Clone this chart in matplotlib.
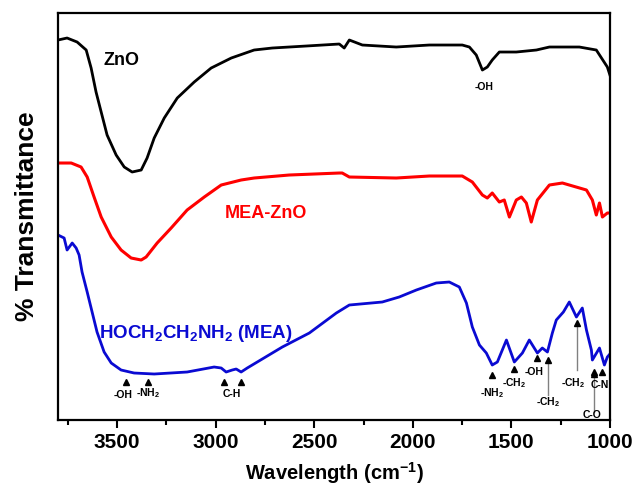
import numpy as np
import matplotlib.pyplot as plt
from matplotlib.ticker import MultipleLocator

plt.rcParams['font.family'] = ['Liberation Sans', 'DejaVu Sans']
plt.rcParams['font.weight'] = 'bold'
plt.rcParams['mathtext.default'] = 'regular'

# ZnO (black)
zno_wn = [3800, 3754, 3703, 3657, 3632, 3607, 3581, 3551, 3505, 3464, 3424, 3378, 3348, 3312,
          3261, 3195, 3109, 3023, 2921, 2805, 2713, 2541, 2373, 2348, 2322, 2256, 2084, 1916,
          1749, 1713, 1678, 1647, 1622, 1597, 1561, 1475, 1373, 1307, 1155, 1069, 1013, 1000]
zno_t = [380, 382, 378, 370, 352, 328, 308, 285, 265, 253, 248, 250, 262, 282,
         302, 322, 338, 352, 362, 370, 372, 374, 376, 372, 380, 375, 373, 375,
         375, 373, 365, 350, 353, 360, 368, 368, 370, 373, 373, 370, 353, 345]

# MEA-ZnO (red)
mea_zno_wn = [3800, 3733, 3683, 3652, 3617, 3581, 3530, 3480, 3429, 3378, 3353, 3297, 3226,
              3145, 3058, 2972, 2871, 2805, 2627, 2373, 2358, 2322, 2084, 1916, 1749, 1698,
              1647, 1622, 1597, 1561, 1536, 1510, 1475, 1449, 1424, 1399, 1368, 1307, 1241,
              1119, 1089, 1069, 1053, 1038, 1013, 1000]
mea_zno_t = [257, 257, 253, 243, 223, 203, 183, 170, 162, 160, 163, 177, 192,
             210, 223, 235, 240, 242, 245, 247, 247, 243, 242, 244, 244, 238,
             225, 222, 227, 218, 220, 203, 220, 223, 217, 198, 220, 235, 237,
             230, 220, 205, 217, 203, 207, 207]

# MEA (blue)
mea_wn = [3800, 3769, 3754, 3728, 3708, 3693, 3678, 3652, 3627, 3602, 3566, 3530, 3480, 3414,
          3312, 3145, 3008, 2972, 2947, 2916, 2896, 2871, 2840, 2662, 2525, 2388, 2322, 2155,
          2069, 1982, 1881, 1815, 1764, 1728, 1698, 1662, 1627, 1597, 1571, 1525, 1485, 1444,
          1409, 1368, 1343, 1317, 1292, 1272, 1236, 1206, 1170, 1140, 1119, 1094, 1089, 1053,
          1028, 1013, 1000]
mea_t = [185, 182, 170, 177, 172, 165, 148, 128, 108, 88, 68, 57, 50, 47,
         46, 48, 53, 52, 48, 50, 51, 48, 52, 73, 87, 107, 115, 118,
         123, 130, 137, 138, 133, 117, 93, 75, 67, 55, 58, 80, 58, 67,
         80, 67, 72, 68, 87, 100, 108, 118, 103, 112, 90, 70, 60, 72,
         55, 63, 66]

# band markers: (wavenumber, marker height, label, label x, label y)
bands = [
    (3454, 38, '-OH', 3470, 25),
    (3343, 38, '-NH$_2$', 3345, 27),
    (2957, 38, None, 0, 0),
    (2871, 38, 'C-H', 2916, 26),
    (1597, 45, '-NH$_2$', 1597, 27),
    (1485, 51, '-CH$_2$', 1485, 37),
    (1368, 62, '-OH', 1383, 48),
    (1079, 48, None, 0, 0),
    (1038, 48, 'C-N', 1053, 35),
]
# long arrows: (wavenumber, tip, tail, label, label x, label y)
arrows = [
    (1312, 60, 25, '-CH$_2$', 1312, 18),
    (1165, 97, 50, '-CH$_2$', 1185, 37),
    (1079, 46, 8, 'C-O', 1089, 5),
]

fig = plt.figure(figsize=(6.34, 4.95), dpi=100)
ax = fig.add_axes([0.0915, 0.1515, 0.8705, 0.8222])

ax.plot(zno_wn, zno_t, color='black', lw=2.0)
ax.plot(mea_zno_wn, mea_zno_t, color='#ff0000', lw=2.2)
ax.plot(mea_wn, mea_t, color='#0a0ad2', lw=2.0)

for wn, h, lab, lx, ly in bands:
    ax.plot(wn, h, marker='^', color='black', ms=5, ls='none')
    if lab:
        ax.text(lx, ly, lab, fontsize=7.5, ha='center', va='center')

for wn, tip, tail, lab, lx, ly in arrows:
    ax.plot([wn, wn], [tail, tip - 4], color='gray', lw=1)
    ax.plot(wn, tip, marker='^', color='black', ms=5, ls='none')
    ax.text(lx, ly, lab, fontsize=7.5, ha='center', va='center')

ax.text(1640, 333, '-OH', fontsize=7.5, ha='center', va='center')
ax.text(3480, 360, 'ZnO', fontsize=13, ha='center', va='center')
ax.text(2744, 207, 'MEA-ZnO', fontsize=13, ha='center', va='center', color='#ff0000')
ax.text(3099, 87, 'HOCH$_2$CH$_2$NH$_2$ (MEA)', fontsize=13.5, ha='center', va='center',
        color='#0a0ad2')

ax.set_xlim(3800, 1000)
ax.set_ylim(0, 407)
ax.xaxis.set_major_locator(MultipleLocator(500))
ax.xaxis.set_minor_locator(MultipleLocator(250))
ax.set_yticks([])
ax.tick_params(axis='x', which='major', length=6, width=1.5, labelsize=15)
ax.tick_params(axis='x', which='minor', length=3.5, width=1.5)
for s in ax.spines.values():
    s.set_linewidth(1.6)

ax.set_xlabel('Wavelength (cm$^{-1}$)', fontsize=14.5, fontweight='bold', labelpad=6)
ax.set_ylabel('% Transmittance', fontsize=19, fontweight='bold', labelpad=14)

fig.savefig('out.png', dpi=100)
